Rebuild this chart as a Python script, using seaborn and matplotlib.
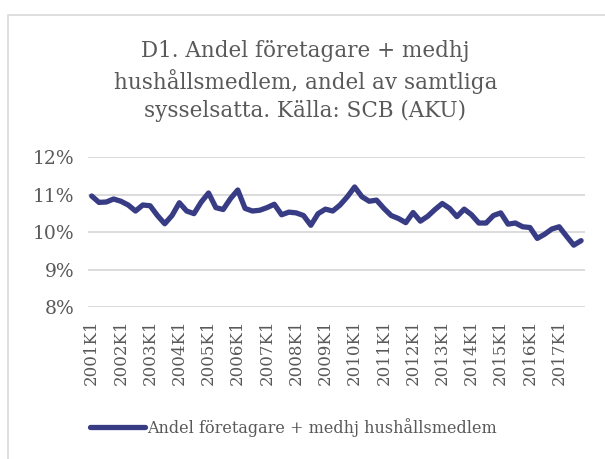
import matplotlib
matplotlib.use("Agg")
import matplotlib.pyplot as plt
import matplotlib.patches as patches
from matplotlib.ticker import PercentFormatter
import numpy as np
import pandas as pd
import seaborn as sns

# quarterly share (%) 2001K1 .. 2017K4
years = list(range(2001, 2018))
quarters = [f"{y}K{q}" for y in years for q in range(1, 5)]
andel = [10.96, 10.79, 10.80, 10.88, 10.82, 10.72, 10.56, 10.72,
         10.70, 10.44, 10.22, 10.44, 10.78, 10.56, 10.49, 10.80,
         11.04, 10.65, 10.60, 10.89, 11.12, 10.63, 10.56, 10.58,
         10.65, 10.74, 10.46, 10.53, 10.51, 10.44, 10.18, 10.49,
         10.61, 10.56, 10.72, 10.94, 11.20, 10.94, 10.82, 10.85,
         10.63, 10.44, 10.36, 10.25, 10.52, 10.29, 10.42, 10.60,
         10.76, 10.63, 10.41, 10.61, 10.46, 10.24, 10.24, 10.44,
         10.51, 10.21, 10.24, 10.14, 10.12, 9.83, 9.94, 10.08,
         10.14, 9.89, 9.65, 9.77]
series_name = "Andel företagare + medhj hushållsmedlem"
title = "D1. Andel företagare + medhj\nhushållsmedlem, andel av samtliga\nsysselsatta. Källa: SCB (AKU)"

df = pd.DataFrame({"kvartal": quarters, "andel": andel})
df["pos"] = range(len(df))

sns.set_style("white")
plt.rcParams["font.family"] = ["DejaVu Serif"]
grey = "#595959"
blue = "#383c84"

fig = plt.figure(figsize=(6.05, 4.59), dpi=100)
ax = fig.add_axes([0.1455, 0.331, 0.821, 0.327])

# chart border like the excel chart area
fig.patches.append(patches.Rectangle((8 / 605, -0.1), 1.0, 1.1 - 15 / 459,
                                     transform=fig.transFigure, fill=False,
                                     edgecolor="#d9d9d9", linewidth=1.2))

sns.lineplot(data=df, x="pos", y="andel", ax=ax, color=blue, linewidth=3.8,
             label=series_name, solid_capstyle="round", solid_joinstyle="round")

ax.set_ylim(8, 12)
ax.set_yticks([8, 9, 10, 11, 12])
ax.yaxis.set_major_formatter(PercentFormatter(decimals=0))
ax.set_xlim(-0.5, len(df) - 0.5)
ax.set_xticks(df["pos"][::4])
ax.set_xticklabels(df["kvartal"][::4], rotation=90)
ax.tick_params(axis="both", colors=grey, labelsize=12, length=0)
ax.tick_params(axis="y", labelsize=13.5, pad=10)
ax.tick_params(axis="x", pad=9)
ax.grid(axis="y", color="#d9d9d9", linewidth=1.3)
ax.set_axisbelow(True)
for s in ax.spines.values():
    s.set_visible(False)
ax.set_xlabel("")
ax.set_ylabel("")

fig.text(0.505, 0.913, title, ha="center", va="top", fontsize=15.5,
         color=grey, linespacing=1.36)

ax.legend(loc="center", bbox_to_anchor=(0.413, -0.8), frameon=False,
          fontsize=11.5, labelcolor=grey, handlelength=3.5, handletextpad=0.1)

fig.savefig("out.png", dpi=100)
